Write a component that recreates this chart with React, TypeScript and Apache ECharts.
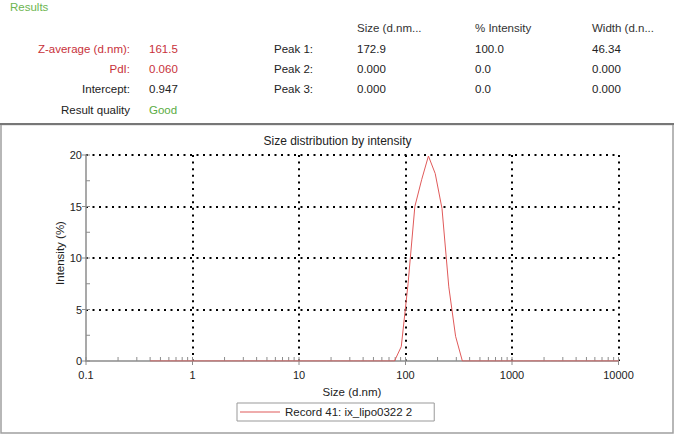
import React, { useEffect, useRef } from "react";
import * as echarts from "echarts";

// Size bins (d.nm) and intensity (%)
const sizes = [
  0.4, 0.4632, 0.5365, 0.6213, 0.7195, 0.8332, 0.9649, 1.117, 1.294, 1.499,
  1.736, 2.01, 2.328, 2.696, 3.122, 3.615, 4.187, 4.849, 5.615, 6.503,
  7.531, 8.721, 10.1, 11.7, 13.54, 15.69, 18.17, 21.04, 24.36, 28.21,
  32.67, 37.84, 43.82, 50.75, 58.77, 68.06, 78.82, 91.28, 105.7, 122.4,
  141.8, 164.2, 190.1, 220.2, 255.0, 295.3, 342.0, 396.1, 458.7, 531.2,
  615.1, 712.4, 825.0, 955.4, 1106, 1281, 1484, 1718, 1990, 2305,
  2669, 3091, 3580, 4145, 4801, 5560, 6439, 7456, 8635, 10000,
];
const intensity = [
  0, 0, 0, 0, 0, 0, 0, 0, 0, 0,
  0, 0, 0, 0, 0, 0, 0, 0, 0, 0,
  0, 0, 0, 0, 0, 0, 0, 0, 0, 0,
  0, 0, 0, 0, 0, 0, 0, 1.4, 7.5, 15.0,
  17.6, 19.9, 18.2, 14.8, 7.2, 2.4, 0, 0, 0, 0,
  0, 0, 0, 0, 0, 0, 0, 0, 0, 0,
  0, 0, 0, 0, 0, 0, 0, 0, 0, 0,
];
const seriesName = "Record 41: ix_lipo0322 2";

const xMajorTicks = [0.1, 1, 10, 100, 1000, 10000];
const xMinorTicks = [
  0.2, 0.3, 0.4, 0.5, 0.6, 0.7, 0.8, 0.9,
  2, 3, 4, 5, 6, 7, 8, 9,
  20, 30, 40, 50, 60, 70, 80, 90,
  200, 300, 400, 500, 600, 700, 800, 900,
  2000, 3000, 4000, 5000, 6000, 7000, 8000, 9000,
];
const yMajorTicks = [0, 5, 10, 15, 20];
const yMinorTicks = [2.5, 7.5, 12.5, 17.5];

// Results table
const summaryLabels = ["Z-average (d.nm):", "PdI:", "Intercept:", "Result quality"];
const summaryValues = ["161.5", "0.060", "0.947", "Good"];
const tableHeaders = ["Size (d.nm...", "% Intensity", "Width (d.n..."];
const peakLabels = ["Peak 1:", "Peak 2:", "Peak 3:"];
const peakSizes = ["172.9", "0.000", "0.000"];
const peakIntensities = ["100.0", "0.0", "0.0"];
const peakWidths = ["46.34", "0.000", "0.000"];

const FONT = "'Liberation Sans', Arial, Helvetica, sans-serif";
const RED = "#c8313a";
const GREEN = "#5aac44";
const TXT = "#222";

export default function App() {
  const ref = useRef<HTMLDivElement>(null);

  useEffect(() => {
    if (!ref.current) return;
    const chart = echarts.init(ref.current, undefined, { renderer: "svg" });

    const rowY = [49, 69, 89, 110];
    const summaryColors = [RED, RED, TXT, TXT];
    const valueColors = [RED, RED, TXT, GREEN];
    const colX = [357, 475, 592];

    const graphics: any[] = [];
    const txt = (text: string, x: number, y: number, opts: any = {}) =>
      graphics.push({
        type: "text",
        x,
        y,
        silent: true,
        style: {
          text,
          fill: opts.fill || TXT,
          font: `${opts.size || 11.5}px ${FONT}`,
          textAlign: opts.align || "left",
          textVerticalAlign: "middle",
        },
        rotation: opts.rotation || 0,
      });

    txt("Results", 10, 6.5, { fill: "#6db54f" });
    summaryLabels.forEach((l, i) => {
      txt(l, 130, rowY[i], { align: "right", fill: summaryColors[i] });
      txt(summaryValues[i], 149, rowY[i], { fill: valueColors[i] });
    });
    tableHeaders.forEach((h, i) => txt(h, colX[i], 27.5, { fill: "#333" }));
    peakLabels.forEach((l, i) => {
      txt(l, 313, rowY[i], { align: "right" });
      txt(peakSizes[i], colX[0], rowY[i]);
      txt(peakIntensities[i], colX[1], rowY[i]);
      txt(peakWidths[i], colX[2], rowY[i]);
    });

    // frame around chart
    graphics.push({
      type: "rect",
      silent: true,
      shape: { x: 1, y: 124.5, width: 672, height: 308.5 },
      style: { fill: "none", stroke: "#a0a0a0", lineWidth: 1.5 },
      z: -1,
    });
    graphics.push({
      type: "line",
      silent: true,
      shape: { x1: 0, y1: 124, x2: 674, y2: 124 },
      style: { stroke: "#777", lineWidth: 2 },
    });
    txt("Size distribution by intensity", 337.5, 141, { align: "center", size: 12 });
    txt("Size (d.nm)", 352, 392, { align: "center", size: 11.5 });
    graphics.push({
      type: "text",
      x: 60,
      y: 253,
      rotation: Math.PI / 2,
      silent: true,
      style: {
        text: "Intensity (%)",
        fill: TXT,
        font: `11.5px ${FONT}`,
        textAlign: "center",
        textVerticalAlign: "middle",
      },
    });

    const fmt = (v: number) => String(Number(Number(v).toPrecision(6)));

    const xTickData = [
      ...xMinorTicks.map((v) => [v, 0, 0]),
      ...xMajorTicks.map((v) => [v, 0, 1]),
    ];
    const yTickData = [
      ...yMinorTicks.map((v) => [0.1, v, 0]),
      ...yMajorTicks.map((v) => [0.1, v, 1]),
    ];

    const option: any = {
      animation: false,
      textStyle: { fontFamily: FONT },
      grid: {
        left: 86,
        right: 57.5,
        top: 155,
        bottom: 74,
        containLabel: false,
        outerBoundsMode: "none",
      },
      legend: {
        data: [seriesName],
        left: 237,
        top: 403,
        orient: "horizontal",
        padding: [3, 22, 3, 3],
        borderColor: "#999",
        borderWidth: 1,
        backgroundColor: "#fff",
        icon: "rect",
        itemWidth: 40,
        itemHeight: 1,
        selectedMode: false,
        textStyle: { fontSize: 11.5, color: TXT, fontFamily: FONT },
      },
      xAxis: {
        type: "log",
        logBase: 10,
        min: 0.1,
        max: 10000,
        axisLine: { show: true, lineStyle: { color: "#8c8c8c", width: 1.5 } },
        axisTick: { show: false },
        minorTick: { show: false },
        axisLabel: {
          margin: 8,
          fontSize: 11,
          color: TXT,
          fontFamily: FONT,
          formatter: fmt,
        },
        splitLine: {
          show: true,
          showMinLine: false,
          lineStyle: { color: "#000", width: 2, type: [2, 4.6] },
        },
      },
      yAxis: {
        type: "value",
        min: 0,
        max: 20,
        interval: 5,
        axisLine: { show: true, lineStyle: { color: "#8c8c8c", width: 1.5 } },
        axisTick: { show: false },
        axisLabel: { margin: 4, fontSize: 11, color: TXT, fontFamily: FONT },
        splitLine: {
          show: true,
          showMinLine: false,
          lineStyle: { color: "#000", width: 2, type: [2, 4.5] },
        },
      },
      series: [
        {
          name: seriesName,
          type: "line",
          data: sizes.map((s, i) => [s, intensity[i]]),
          showSymbol: false,
          symbol: "none",
          lineStyle: { color: "#e05a5a", width: 1 },
          itemStyle: { color: "#e05a5a" },
          z: 5,
        },
        {
          type: "custom",
          silent: true,
          clip: false,
          data: xTickData,
          encode: { x: 0, y: 1 },
          renderItem: (params: any, api: any) => {
            const p = api.coord([api.value(0), 0]);
            const major = api.value(2) === 1;
            return {
              type: "line",
              shape: { x1: p[0], y1: major ? p[1] + 4 : p[1], x2: p[0], y2: p[1] - 4 },
              style: { stroke: "#8c8c8c", lineWidth: 1 },
            };
          },
          z: 3,
        },
        {
          type: "custom",
          silent: true,
          clip: false,
          data: yTickData,
          encode: { x: 0, y: 1 },
          renderItem: (params: any, api: any) => {
            const p = api.coord([0.1, api.value(1)]);
            const major = api.value(2) === 1;
            return {
              type: "line",
              shape: { x1: major ? p[0] - 4 : p[0], y1: p[1], x2: p[0] + 4, y2: p[1] },
              style: { stroke: "#8c8c8c", lineWidth: 1 },
            };
          },
          z: 3,
        },
      ],
      graphic: graphics,
    };

    chart.setOption(option);
    return () => chart.dispose();
  }, []);

  return (
    <div
      ref={ref}
      style={{ position: "fixed", left: 0, top: 0, width: 676, height: 435, background: "#fff" }}
    />
  );
}
